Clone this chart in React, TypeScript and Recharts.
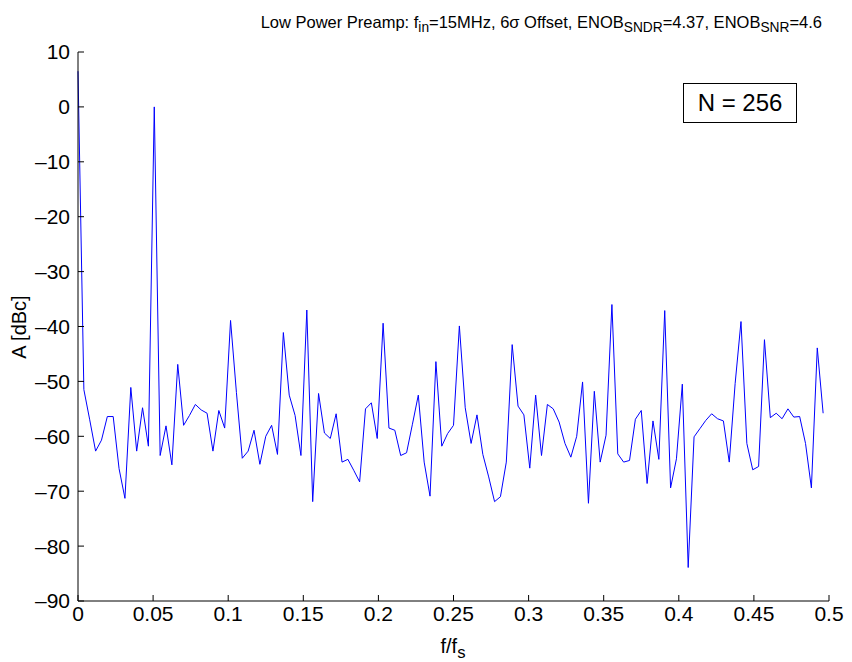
import { LineChart, Line, XAxis, YAxis } from "recharts";

// FFT bins 0..127 of a 256-point record, amplitude in dBc
const N = 256;
const AMPLITUDE_DBC = [
  6.5, -51.5, -57, -62.7, -60.7, -56.4, -56.4, -65.9, -71.3, -51.1,
  -62.7, -54.8, -61.8, 0, -63.5, -58.1, -65.2, -46.9, -58, -56.2,
  -54.2, -55.2, -55.8, -62.7, -55.3, -58.5, -38.9, -52, -64, -62.7,
  -58.9, -65.1, -60, -58, -63.3, -41.1, -52.5, -56.2, -63.5, -37,
  -71.9, -52.2, -59.4, -60.4, -55.9, -64.7, -64.2, -66.2, -68.3, -55,
  -53.9, -60.4, -39.4, -58.5, -58.9, -63.5, -63, -57.8, -52.5, -64.7,
  -70.9, -46.4, -61.8, -59.5, -58, -39.9, -54.8, -61.3, -56.1, -63.3,
  -67.4, -71.9, -71, -64.7, -43.3, -54.5, -56.1, -65.8, -52.5, -63.5,
  -54.2, -55, -57.4, -61.3, -63.8, -60, -50.1, -72.2, -51.8, -64.7,
  -59.8, -36, -63.2, -64.7, -64.4, -56.9, -55.3, -68.6, -57.2, -64.2,
  -37.1, -69.4, -64.1, -50.5, -83.9, -60.1, -58.6, -57.1, -55.9, -56.8,
  -57.2, -64.7, -50.4, -39.1, -61.3, -66.1, -65.5, -42.4, -56.6, -55.8,
  -56.8, -55, -56.5, -56.4, -61.3, -69.4, -43.9, -55.8,
];

const X_TICKS = [0, 0.05, 0.1, 0.15, 0.2, 0.25, 0.3, 0.35, 0.4, 0.45, 0.5];
const Y_TICKS = [-90, -80, -70, -60, -50, -40, -30, -20, -10, 0, 10];

const data = AMPLITUDE_DBC.map((a, k) => ({ f: k / N, a }));

const labelFont = "'Liberation Sans', Arial, sans-serif";
const tickFont = { fill: "#000", fontSize: 21, fontFamily: labelFont };
const fmtY = (v: number) => String(v).replace("-", "\u2013");

export default function App() {
  return (
    <div style={{ position: "absolute", left: 0, top: 0, width: 852, height: 662, background: "#fff" }}>
      <LineChart width={852} height={662} data={data} margin={{ top: 52, right: 23, bottom: 21, left: 18 }}>
        <XAxis
          dataKey="f"
          type="number"
          domain={[0, 0.5]}
          ticks={X_TICKS}
          height={40}
          tickSize={-6}
          tickMargin={11}
          tick={tickFont}
          stroke="#000"
        />
        <XAxis
          xAxisId="top"
          orientation="top"
          type="number"
          domain={[0, 0.5]}
          ticks={X_TICKS}
          height={0}
          mirror
          tickSize={-6}
          tickFormatter={() => ""}
          stroke="#000"
        />
        <YAxis
          type="number"
          domain={[-90, 10]}
          ticks={Y_TICKS}
          width={60}
          tickSize={-6}
          tickMargin={14}
          tick={tickFont}
          tickFormatter={fmtY}
          stroke="#000"
        />
        <YAxis
          yAxisId="right"
          orientation="right"
          type="number"
          domain={[-90, 10]}
          ticks={Y_TICKS}
          width={0}
          mirror
          tickSize={-6}
          tickFormatter={() => ""}
          stroke="#000"
        />
        <Line
          dataKey="a"
          type="linear"
          stroke="#0000ff"
          strokeWidth={1}
          dot={false}
          isAnimationActive={false}
        />
      </LineChart>

      <div
        style={{
          position: "absolute", right: 30, top: 14, fontFamily: labelFont, fontSize: 16.5,
          lineHeight: 1, whiteSpace: "nowrap", color: "#000",
        }}
      >
        Low Power Preamp: f<sub>in</sub>=15MHz, 6σ Offset, ENOB<sub>SNDR</sub>=4.37, ENOB<sub>SNR</sub>=4.6
      </div>

      <div
        style={{
          position: "absolute", left: 683, top: 83, width: 112, height: 38, border: "1px solid #000",
          display: "flex", alignItems: "center", justifyContent: "center",
          fontFamily: labelFont, fontSize: 24, color: "#000", background: "#fff",
        }}
      >
        N = 256
      </div>

      <div
        style={{
          position: "absolute", left: 19, top: 327, transform: "translate(-50%, -50%) rotate(-90deg)",
          fontFamily: labelFont, fontSize: 20, whiteSpace: "nowrap", color: "#000",
        }}
      >
        A [dBc]
      </div>

      <div
        style={{
          position: "absolute", left: 453, top: 636, transform: "translateX(-50%)",
          fontFamily: labelFont, fontSize: 20, lineHeight: 1, whiteSpace: "nowrap", color: "#000",
        }}
      >
        f/f<sub>s</sub>
      </div>
    </div>
  );
}
